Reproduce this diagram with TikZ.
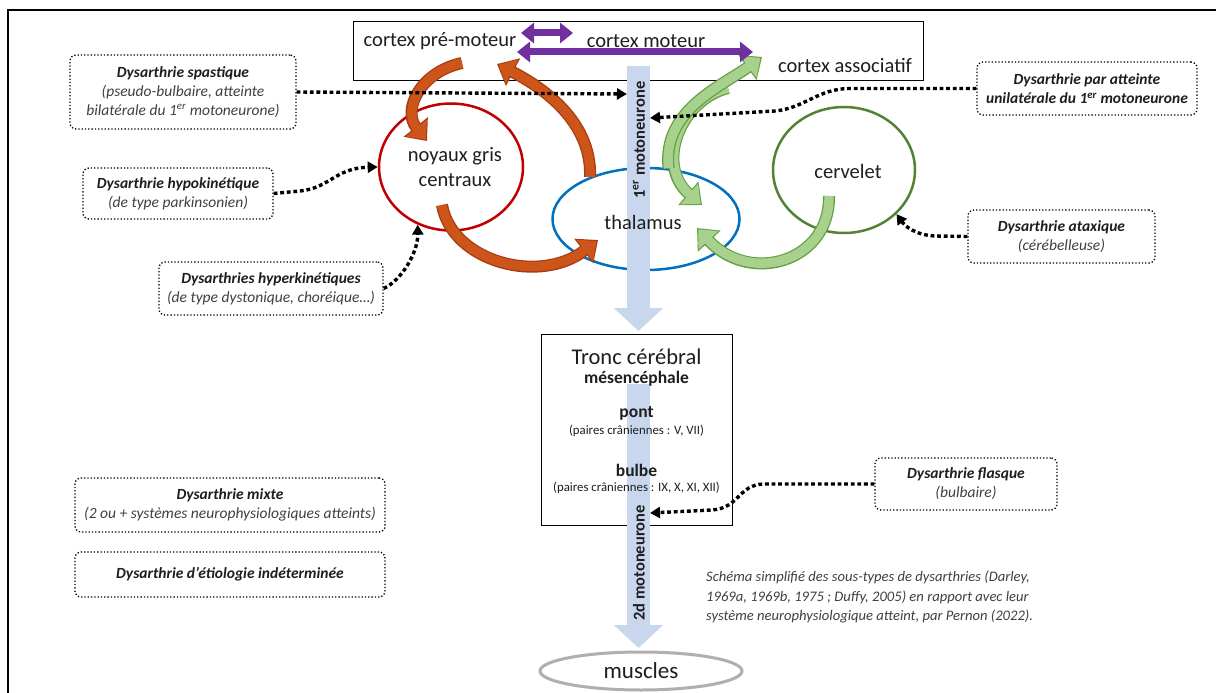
\documentclass[tikz,border=0pt]{standalone}
\usepackage{fontspec}
\setmainfont{Carlito}
\usetikzlibrary{arrows.meta,shapes.geometric}
\definecolor{txt}{RGB}{30,30,30}
\definecolor{subtxt}{RGB}{64,64,64}
\definecolor{ngcred}{RGB}{192,0,0}
\definecolor{thalblue}{RGB}{0,112,192}
\definecolor{cervgreen}{RGB}{84,130,53}
\definecolor{musgray}{RGB}{175,175,175}
\definecolor{barblue}{RGB}{200,215,238}
\definecolor{purp}{RGB}{112,48,160}
\definecolor{redfill}{RGB}{205,85,25}
\definecolor{redline}{RGB}{165,60,20}
\definecolor{greenfill}{RGB}{169,209,142}
\definecolor{greenline}{RGB}{100,160,65}
\newcommand\boxtitle[1]{\textbf{\textit{#1}}}
\newcommand\subln[1]{{\color{subtxt}\itshape #1}}
\newcommand\garrow[1]{\draw[gout] #1; \draw[gin] #1;}
\newcommand\rarrow[1]{\draw[rout] #1; \draw[rin] #1;}
\begin{document}
\begin{tikzpicture}[x=1pt,y=-1pt,
  dbox/.style={draw=black, line width=1.3pt, dotted, rounded corners=6pt, inner sep=0pt, align=center, text=txt, font=\fontsize{15.5}{18.8}\selectfont},
  dotarrow/.style={line width=3.4pt, dash pattern=on 3.8pt off 2.8pt, -{Triangle[length=10pt,width=11pt]}},
  ellnode/.style={ellipse, draw, line width=2.5pt, inner sep=0pt},
  lbl/.style={text=txt, inner sep=0pt},
  big/.style={font=\fontsize{20.5}{20.5}\selectfont},
  gout/.style={greenline, line width=12pt, -{Triangle[length=18pt,width=30pt]}},
  gin/.style={greenfill, line width=9.4pt, shorten >=1.8pt, -{Triangle[length=15pt,width=26pt]}},
  rout/.style={redline, line width=12pt, -{Triangle[length=18pt,width=30pt]}},
  rin/.style={redfill, line width=9.4pt, shorten >=1.8pt, -{Triangle[length=15pt,width=26pt]}},
  parrow/.style={purp, line width=7pt, {Triangle[length=13pt,width=20pt]}-{Triangle[length=13pt,width=20pt]}},
  bar/.style={barblue, line width=23pt, -{Triangle[length=23pt,width=48pt]}},
  barlbl/.style={rotate=90, text=txt, inner sep=0pt, font=\bfseries\fontsize{16.5}{16.5}\selectfont}
]
\useasboundingbox (0,0) rectangle (1216,693);
\fill[white] (0,0) rectangle (1216,693);
\draw[line width=2pt] (8,693) -- (8,10) -- (1216,10);

% boxes
\node[draw, line width=1pt, minimum width=570pt, minimum height=59pt, inner sep=0pt] (cortex) at (638,51.5) {};
\node[draw, line width=1pt, minimum width=191pt, minimum height=191pt, inner sep=0pt] (tronc) at (636.5,429.5) {};

% ellipses
\node[ellnode, draw=ngcred, minimum width=144pt, minimum height=127pt] (ngc) at (451,167) {};
\node[ellnode, draw=thalblue, minimum width=187pt, minimum height=102pt] (thal) at (646,219) {};
\node[ellnode, draw=cervgreen, minimum width=142pt, minimum height=126pt] (cerv) at (844,170) {};

% coordinates
\coordinate (rt1) at (462,63);
\coordinate (rh1) at (427,141);
\coordinate (rh2) at (497,64);
\coordinate (rt3) at (442,205);
\coordinate (rh3) at (598,240);
\coordinate (gh1) at (762,57);
\coordinate (gt2) at (728,88);
\coordinate (gh2) at (702,205);
\coordinate (gt3) at (829,196);
\coordinate (gh3) at (697,228);
\coordinate (pa1) at (521,33);
\coordinate (pa2) at (573,33);
\coordinate (pb1) at (517,52);
\coordinate (pb2) at (753,52);
\coordinate (b1top) at (638.5,66);
\coordinate (b1tip) at (638.5,331);
\coordinate (b2top) at (638.5,384);
\coordinate (b2tip) at (638.5,648);
\coordinate (b1l) at (627,94);
\coordinate (b1r) at (650,118);
\coordinate (b2r) at (650,513);

% red arrows
\rarrow{(rt1) .. controls (420,72) and (402,110) .. (rh1)}
\rarrow{(thal.143) .. controls (592,120) and (540,86) .. (rh2)}
\rarrow{(rt3) .. controls (452,262) and (540,285) .. (rh3)}
% green arrows
\garrow{(gt2) .. controls (680,100) and (655,165) .. (gh2)}
\garrow{(thal.66) .. controls (662,110) and (722,86) .. (gh1)}
\garrow{(gt3) .. controls (830,262) and (750,285) .. (gh3)}

% purple arrows
\draw[parrow] (pa1) -- (pa2);
\draw[parrow] (pb1) -- (pb2);

% blue bars
\draw[bar] (b1top) -- (b1tip);
\draw[bar] (b2top) -- (b2tip);
\node[barlbl] (lab1) at (639,140) {1\textsuperscript{er} motoneurone};
\node[barlbl] (lab2) at (639,563) {2d motoneurone};

% labels
\node[lbl, big] (cpm) at (440,41) {cortex pré-moteur};
\node[lbl, big] (cm) at (646,41) {cortex moteur};
\node[lbl, big] (ca) at (845,65) {cortex associatif};
\node[lbl, align=center, font=\fontsize{20.5}{25}\selectfont] (ngclbl) at (455,167) {noyaux gris\\centraux};
\node[lbl, big] (thallbl) at (643,222) {thalamus};
\node[lbl, big] (cervlbl) at (848,171) {cervelet};

\node[lbl, font=\fontsize{22.5}{22.5}\selectfont] (troncl) at (636.5,357) {Tronc cérébral};
\node[lbl, font=\bfseries\fontsize{17.5}{17.5}\selectfont] (mesen) at (636.5,379) {mésencéphale};
\node[lbl, font=\bfseries\fontsize{17.5}{17.5}\selectfont] (pont) at (636.5,413) {pont};
\node[lbl, font=\fontsize{12.8}{12.8}\selectfont] (pontcn) at (636.5,431) {(paires crâniennes : V, VII)};
\node[lbl, font=\bfseries\fontsize{17.5}{17.5}\selectfont] (bulbe) at (636.5,470) {bulbe};
\node[lbl, font=\fontsize{12.8}{12.8}\selectfont] (bulbecn) at (636.5,488) {(paires crâniennes : IX, X, XI, XII)};

\node[ellnode, draw=musgray, line width=3pt, minimum width=202pt, minimum height=38pt, text=txt, font=\fontsize{23}{23}\selectfont] (mus) at (641,671) {muscles};

% dysarthria boxes
\node[dbox, minimum width=226pt, minimum height=74pt] (spast) at (183,92) {\boxtitle{Dysarthrie spastique}\\\subln{(pseudo-bulbaire, atteinte}\\\subln{bilatérale du 1\textsuperscript{er} motoneurone)}};
\node[dbox, minimum width=190pt, minimum height=51pt] (hypo) at (178,193.5) {\boxtitle{Dysarthrie hypokinétique}\\\subln{(de type parkinsonien)}};
\node[dbox, minimum width=224pt, minimum height=53pt] (hyper) at (271,288.5) {\boxtitle{Dysarthries hyperkinétiques}\\\subln{(de type dystonique, choréique…)}};
\node[dbox, minimum width=310pt, minimum height=54pt] (mixte) at (230,505) {\boxtitle{Dysarthrie mixte}\\\subln{(2 ou + systèmes neurophysiologiques atteints)}};
\node[dbox, minimum width=310pt, minimum height=45pt] (indet) at (230,574.5) {\boxtitle{Dysarthrie d’étiologie indéterminée}};
\node[dbox, minimum width=220pt, minimum height=53pt] (unilat) at (1087,88.5) {\boxtitle{Dysarthrie par atteinte}\\\boxtitle{unilatérale du 1\textsuperscript{er} motoneurone}};
\node[dbox, minimum width=187pt, minimum height=53pt] (atax) at (1061.5,236.5) {\boxtitle{Dysarthrie ataxique}\\\subln{(cérébelleuse)}};
\node[dbox, minimum width=182pt, minimum height=52pt] (flasque) at (966,484) {\boxtitle{Dysarthrie flasque}\\\subln{(bulbaire)}};

% dotted connectors
\draw[dotarrow] (spast.east) -- (b1l);
\draw[dotarrow] (unilat.west) -- (850,88.5) .. controls (818,88.5) and (805,108) .. (775,111) -- (b1r);
\draw[dotarrow] (hypo.east) -- (300,191) .. controls (330,188) and (335,168) .. (ngc.180);
\draw[dotarrow] (hyper.east) .. controls (402,280) and (418,252) .. (ngc.-120);
\draw[dotarrow] (atax.west) -- (935,236) .. controls (915,235) and (905,226) .. (cerv.-40);
\draw[dotarrow] (flasque.west) -- (765,484) .. controls (738,484) and (740,508) .. (712,510) -- (b2r);

% caption
\node[anchor=north west, align=left, inner sep=0pt, text=subtxt, font=\itshape\fontsize{14.6}{19.5}\selectfont] (caption) at (706,571) {Schéma simplifié des sous-types de dysarthries (Darley,\\1969a, 1969b, 1975 ; Duffy, 2005) en rapport avec leur\\système neurophysiologique atteint, par Pernon (2022).};
\end{tikzpicture}
\end{document}
